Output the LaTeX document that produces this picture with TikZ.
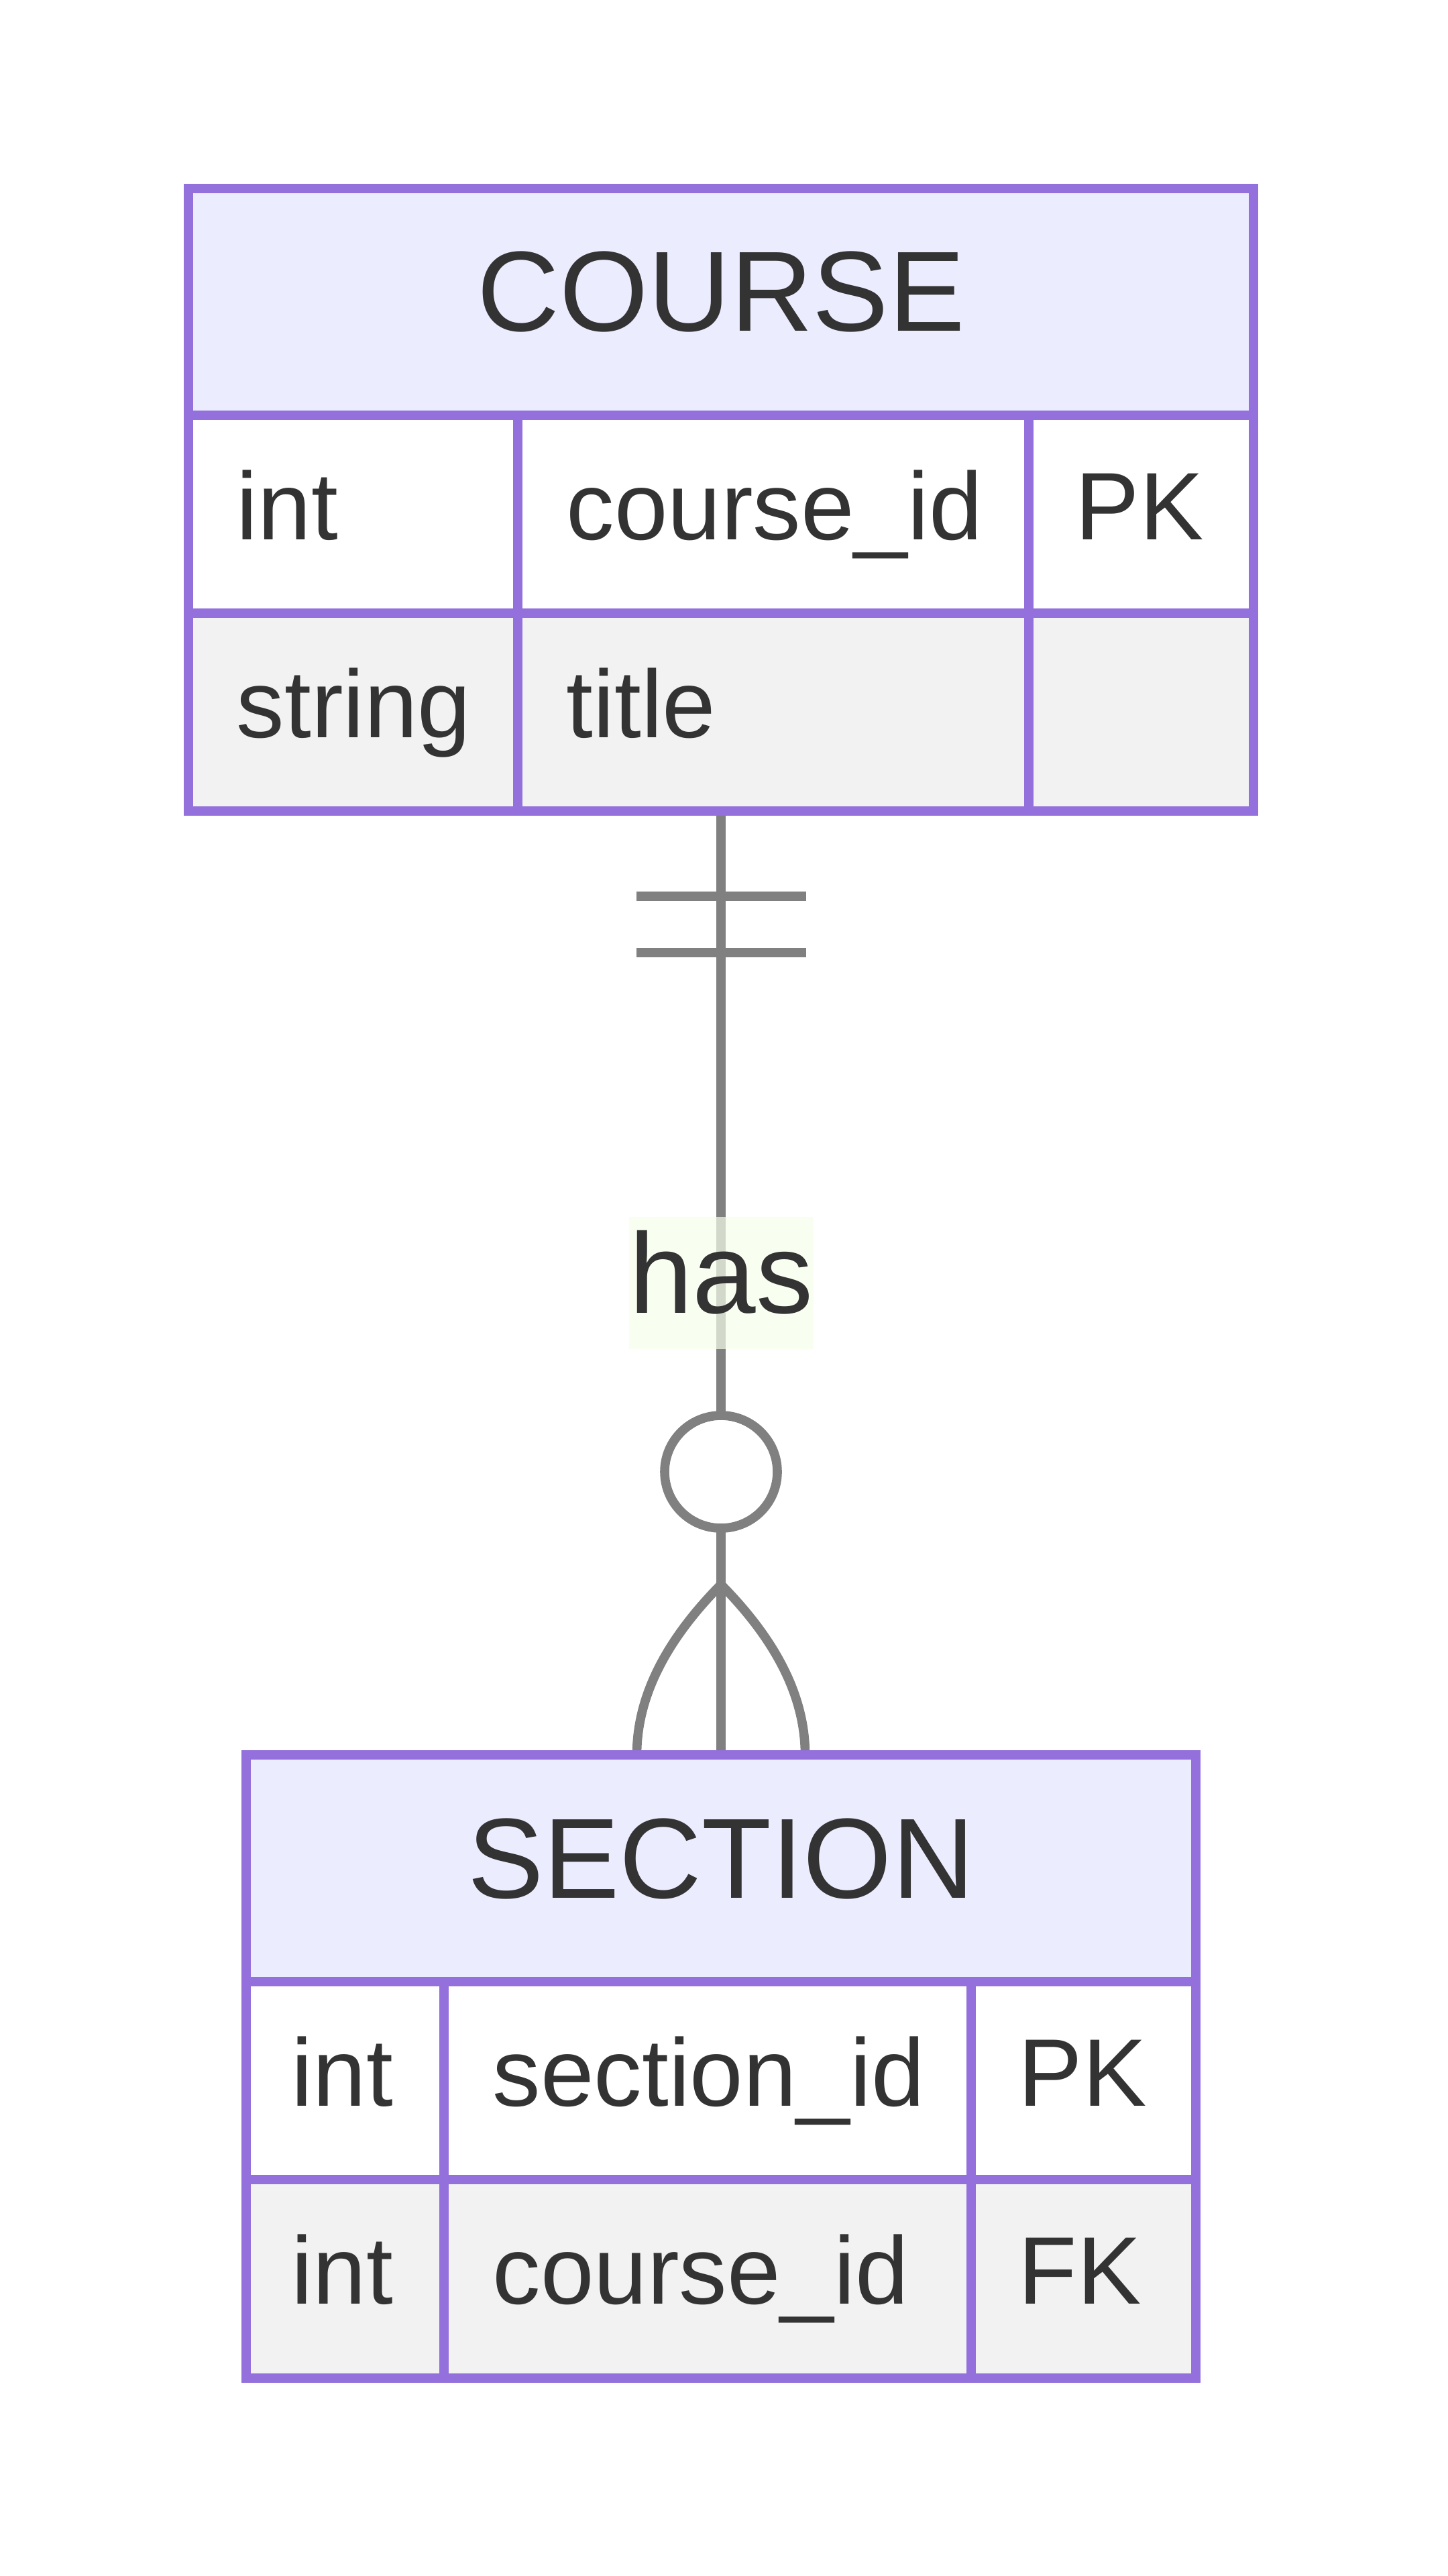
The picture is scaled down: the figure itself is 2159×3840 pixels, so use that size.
\documentclass[tikz,border=0pt]{standalone}
\usepackage{fontspec}
\setmainfont{Liberation Sans}
\usetikzlibrary{calc}
\definecolor{ebord}{HTML}{9370DB}
\definecolor{ehead}{HTML}{ECECFF}
\definecolor{eroweven}{HTML}{F2F2F2}
\definecolor{etext}{HTML}{333333}
\definecolor{eline}{HTML}{808080}
\definecolor{elabel}{HTML}{F7FFEA}
\begin{document}
\begin{tikzpicture}[x=0.25pt,y=-0.25pt,
  entity/.style={rectangle, inner sep=0pt, outer sep=0pt, draw=none},
  border/.style={draw=ebord, line width=3.4pt},
  rel/.style={draw=eline, line width=3.4pt},
  htext/.style={anchor=base, inner sep=0pt, text=etext, font=\fontsize{42.5}{50}\selectfont},
  atext/.style={anchor=base west, inner sep=0pt, text=etext, font=\fontsize{35.75}{42}\selectfont},
  lbl/.style={rectangle, inner sep=0pt, outer sep=0pt, fill=elabel, fill opacity=0.7, text opacity=1,
    text=etext, font=\fontsize{42.5}{50}\selectfont, minimum width=68.25pt, minimum height=49.25pt,
    text height=35.75pt, text depth=13.5pt},
  zcirc/.style={circle, draw=eline, fill=white, line width=3.4pt, minimum size=42pt, inner sep=0pt, outer sep=0pt}
]
\useasboundingbox (0,0) rectangle (2159,3840);
% entity frames (for connector anchors)
\node[entity, minimum width=397pt, minimum height=232pt] (course) at (1075,745) {};
\node[entity, minimum width=354pt, minimum height=232.25pt] (section) at (1075,3080.5) {};

% relationship connector
\draw[rel] (course.south) -- (section.north);
\draw[rel] ($(course.south)+(-126.5,127)$) -- ($(course.south)+(126.5,127)$);
\draw[rel] ($(course.south)+(-126.5,211)$) -- ($(course.south)+(126.5,211)$);
\coordinate (apex) at ($(section.north)+(0,-254)$);
\draw[rel] (apex) .. controls ($(apex)+(-84,85)$) and ($(section.north)+(-125.5,-85)$) .. ($(section.north)+(-125.5,0)$);
\draw[rel] (apex) .. controls ($(apex)+(84,85)$) and ($(section.north)+(125.5,-85)$) .. ($(section.north)+(125.5,0)$);
\node[zcirc] (zero) at (1075,2194) {};
\node[lbl] (has) at (1075.5,1912.5) {has};

% COURSE entity
\fill[ehead] (281,281) rectangle (1869,619);
\fill[white] (281,619) rectangle (1869,914);
\fill[eroweven] (281,914) rectangle (1869,1209);
\draw[border] (281,281) rectangle (1869,1209);
\draw[border] (281,619) -- (1869,619);
\draw[border] (281,914) -- (1869,914);
\draw[border] (772,619) -- (772,1209);
\draw[border] (1534,619) -- (1534,1209);
\node[htext] (courseT) at (1075,494) {COURSE};
\node[atext] (c11) at (352,804) {int};
\node[atext] (c12) at (844,804) {course\_id};
\node[atext] (c13) at (1603,804) {PK};
\node[atext] (c21) at (352,1099) {string};
\node[atext] (c22) at (844,1099) {title};

% SECTION entity
\fill[ehead] (367,2616) rectangle (1783,2954);
\fill[white] (367,2954) rectangle (1783,3249);
\fill[eroweven] (367,3249) rectangle (1783,3545);
\draw[border] (367,2616) rectangle (1783,3545);
\draw[border] (367,2954) -- (1783,2954);
\draw[border] (367,3249) -- (1783,3249);
\draw[border] (662,2954) -- (662,3545);
\draw[border] (1448,2954) -- (1448,3545);
\node[htext] (sectionT) at (1075,2829) {SECTION};
\node[atext] (s11) at (434,3139) {int};
\node[atext] (s12) at (734,3139) {section\_id};
\node[atext] (s13) at (1518,3139) {PK};
\node[atext] (s21) at (434,3434) {int};
\node[atext] (s22) at (734,3434) {course\_id};
\node[atext] (s23) at (1518,3434) {FK};
\end{tikzpicture}
\end{document}
